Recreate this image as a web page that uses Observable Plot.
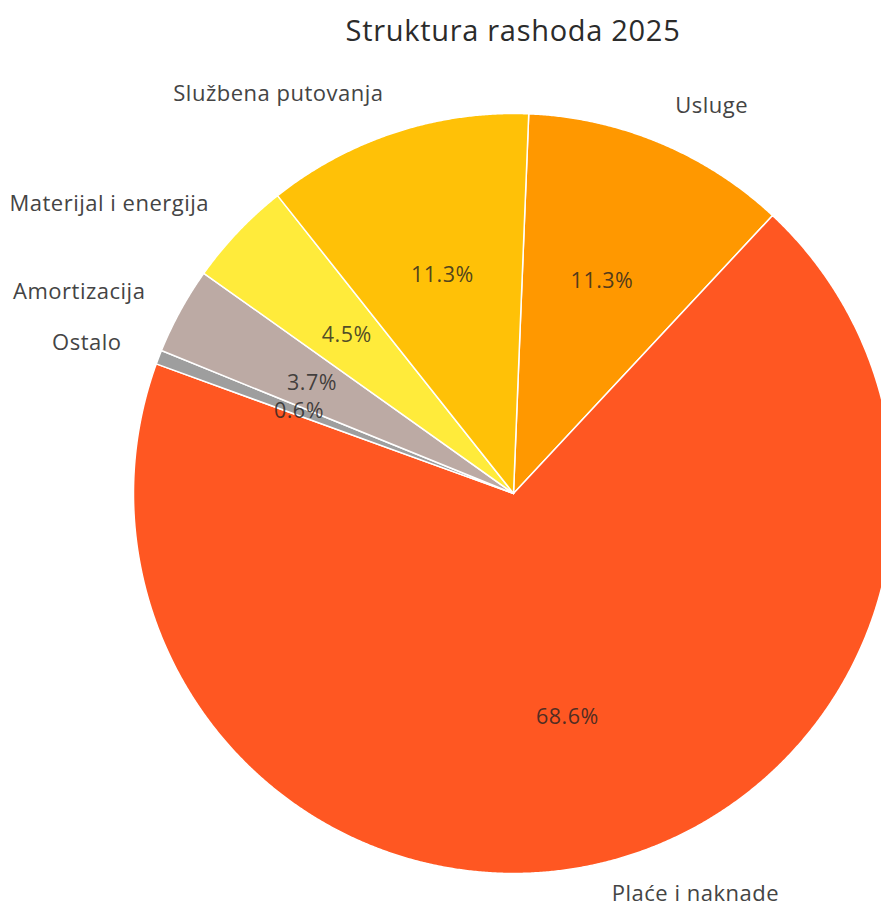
<!DOCTYPE html>
<html>
<head>
<meta charset="utf-8">
<script src="https://cdn.jsdelivr.net/npm/d3@7"></script>
<script src="https://cdn.jsdelivr.net/npm/@observablehq/plot@0.6"></script>
<style>
  html, body { margin: 0; padding: 0; background: #fff; overflow: hidden; }
  #title { box-sizing: border-box; width: 881px; height: 58px; line-height: 60px;
           padding-left: 145px; text-align: center; font-family: "Open Sans", sans-serif;
           font-size: 29px; letter-spacing: 0.7px; color: #2b2b2b; }
  #chart svg text { letter-spacing: 0.5px; }
</style>
</head>
<body>
<div id="title"></div>
<div id="chart"></div>
<script>
const titleText = "Struktura rashoda 2025";
const categories = ["Usluge", "Plaće i naknade", "Ostalo", "Amortizacija", "Materijal i energija", "Službena putovanja"];
const shares = [11.3, 68.6, 0.6, 3.7, 4.5, 11.3];
const colors = ["#FF9800", "#FF5722", "#9E9E9E", "#BCAAA4", "#FFEB3B", "#FFC107"];

document.getElementById("title").textContent = titleText;

// layout
const W = 881, H = 850, cx = 513, cy = 435, R = 380;
const startAngle = 2.3 * Math.PI / 180;
const outerK = 1.105, innerK = 0.605;

const rows = categories.map((c, i) => ({category: c, share: shares[i]}));
const arcs = d3.pie().sort(null).value(d => d.share)
  .startAngle(startAngle).endAngle(startAngle + 2 * Math.PI)(rows);

const polys = [];
const labels = [];
arcs.forEach(a => {
  const cat = a.data.category;
  polys.push({category: cat, x: 0, y: 0});
  const n = Math.max(2, Math.ceil((a.endAngle - a.startAngle) / (Math.PI / 720)) + 1);
  for (let k = 0; k < n; k++) {
    const t = a.startAngle + (a.endAngle - a.startAngle) * k / (n - 1);
    polys.push({category: cat, x: Math.sin(t), y: Math.cos(t)});
  }
  polys.push({category: cat, x: 0, y: 0});
  const m = (a.startAngle + a.endAngle) / 2;
  labels.push({
    category: cat,
    pct: a.data.share.toFixed(1) + "%",
    ox: Math.sin(m) * outerK, oy: Math.cos(m) * outerK,
    ix: Math.sin(m) * innerK, iy: Math.cos(m) * innerK,
    right: Math.sin(m) >= 0,
    top: Math.cos(m) >= 0
  });
});

const font = "'Open Sans', sans-serif";
const lab = {fontSize: 22, fontFamily: font, fill: "#444"};
const chart = Plot.plot({
  width: W, height: H,
  margin: 0,
  style: {background: "transparent", overflow: "hidden"},
  x: {domain: [-1, 1], range: [cx - R, cx + R], axis: null},
  y: {domain: [-1, 1], range: [cy + R, cy - R], axis: null},
  color: {domain: categories, range: colors},
  marks: [
    Plot.line(polys, {x: "x", y: "y", z: "category", fill: "category",
      stroke: "#ffffff", strokeWidth: 1.5, strokeLinejoin: "round", curve: "linear"}),
    Plot.text(labels.filter(d => d.right && d.top), {x: "ox", y: "oy", text: "category",
      textAnchor: "start", ...lab}),
    Plot.text(labels.filter(d => d.right && !d.top), {x: "ox", y: "oy", text: "category",
      textAnchor: "start", dy: -8, ...lab}),
    Plot.text(labels.filter(d => !d.right), {x: "ox", y: "oy", text: "category",
      textAnchor: "end", ...lab}),
    Plot.text(labels, {x: "ix", y: "iy", text: "pct",
      fontSize: 21.5, fontFamily: font, fill: "#222", fillOpacity: 0.8})
  ]
});
document.getElementById("chart").appendChild(chart);
</script>
</body>
</html>
